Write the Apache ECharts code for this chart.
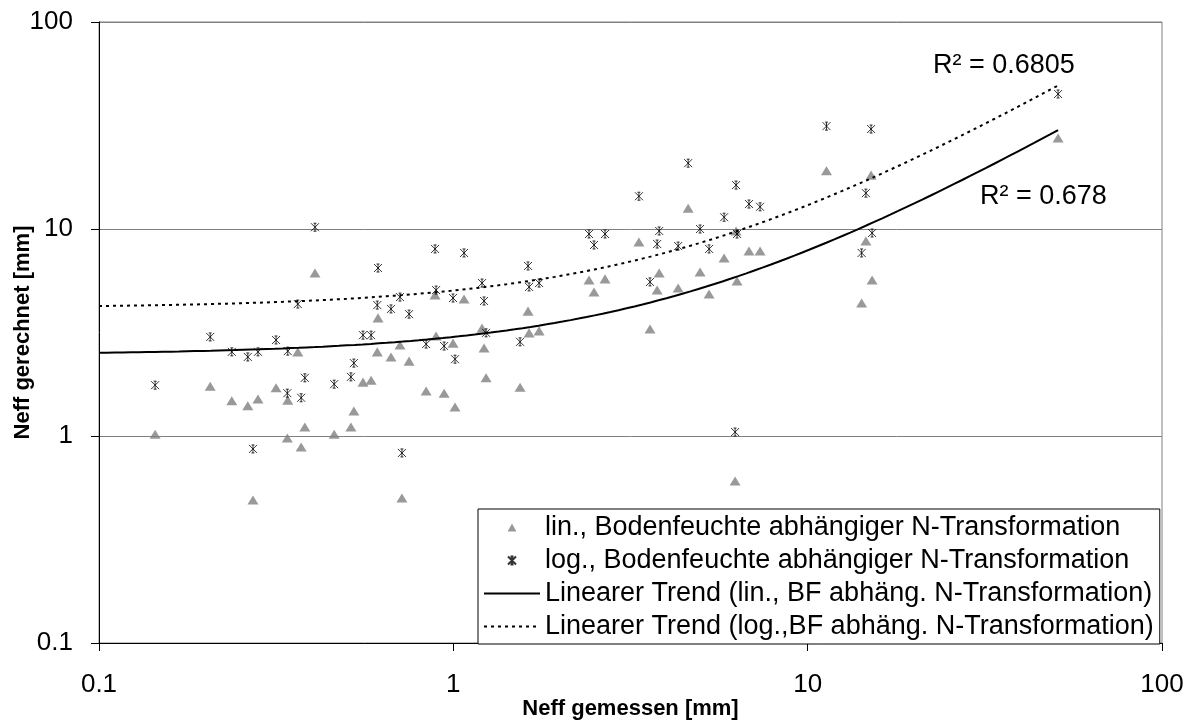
<!DOCTYPE html>
<html lang="de">
<head>
    <meta charset="UTF-8">
    <title>Neff gemessen vs. gerechnet</title>
    <script src="https://cdn.jsdelivr.net/npm/echarts@6/dist/echarts.min.js"></script>
    <style>
        body, html {
            margin: 0;
            padding: 0;
            width: 100%;
            height: 100%;
            background: #fff;
        }
        #chart {
            width: 1192px;
            height: 724px;
        }
    </style>
</head>
<body>
    <div id="chart"></div>
    <script>
        // Neff gemessen [mm] (shared x for both series)
        var neffMeasured = [0.144, 0.206, 0.237, 0.263, 0.272, 0.281, 0.316, 0.340, 0.341, 0.364,
            0.372, 0.381, 0.407, 0.461, 0.514, 0.524, 0.556, 0.586, 0.613, 0.610,
            0.667, 0.707, 0.716, 0.750, 0.838, 0.888, 0.894, 0.942, 0.998, 1.011,
            1.072, 1.205, 1.221, 1.237, 1.543, 1.625, 1.636, 1.746, 2.415, 2.495,
            2.68, 3.34, 3.59, 3.76, 3.81, 4.31, 4.60, 4.97, 5.27, 5.81,
            6.24, 6.28, 6.32, 6.83, 7.34, 11.3, 14.2, 14.6, 15.1, 15.2, 50.9];

        // Neff gerechnet, lin. Bodenfeuchte abhängige N-Transformation
        var neffLin = [1.02, 1.74, 1.48, 1.40, 0.491, 1.51, 1.71, 0.978, 1.49, 2.55,
            0.885, 1.105, 6.13, 1.02, 1.105, 1.32, 1.82, 1.86, 3.72, 2.55,
            2.41, 2.75, 0.502, 2.30, 1.65, 4.80, 3.04, 1.61, 2.81, 1.38,
            4.59, 3.32, 2.66, 1.91, 1.72, 4.01, 3.15, 3.22, 5.67, 4.96,
            5.74, 8.65, 3.29, 5.07, 6.13, 5.19, 12.6, 6.20, 4.85, 7.24,
            0.606, 9.78, 5.61, 7.83, 7.83, 19.1, 4.39, 8.75, 18.2, 5.67, 27.5];

        // Neff gerechnet, log. Bodenfeuchte abhängige N-Transformation
        var neffLog = [1.76, 3.01, 2.55, 2.41, 0.866, 2.55, 2.91, 1.61, 2.57, 4.34,
            1.53, 1.91, 10.2, 1.78, 1.93, 2.25, 3.07, 3.07, 6.48, 4.29,
            4.11, 4.69, 0.828, 3.88, 2.78, 8.01, 5.07, 2.72, 4.64, 2.35,
            7.66, 5.48, 4.49, 3.15, 2.85, 6.63, 5.25, 5.48, 9.46, 8.37,
            9.46, 14.4, 5.55, 8.46, 9.78, 8.27, 20.8, 10.0, 8.01, 11.4,
            1.045, 16.3, 9.46, 13.2, 12.8, 31.4, 7.66, 14.9, 30.4, 9.56, 44.9];

        var seriesNames = [
            'lin., Bodenfeuchte abhängiger N-Transformation',
            'log., Bodenfeuchte abhängiger N-Transformation',
            'Linearer Trend (lin., BF abhäng. N-Transformation)',
            'Linearer Trend (log.,BF abhäng. N-Transformation)'
        ];
        var r2Labels = ['R² = 0.678', 'R² = 0.6805'];

        // marker shapes (paths keep their aspect, also in the legend)
        var TRIANGLE = 'path://M5.5,0L11,10L0,10Z';
        var STAR = 'path://M0,0L8,8M8,0L0,8M4,0L4,8M2.5,0L5.5,0M2.5,8L5.5,8';
        var LEG_SOLID = 'path://M0,0H56V2H0Z';
        var LEG_DOTTED = 'path://M0,0h3v2h-3zM7,0h3v2h-3zM14,0h3v2h-3zM21,0h3v2h-3zM28,0h3v2h-3zM35,0h3v2h-3zM42,0h3v2h-3zM49,0h3v2h-3zM56,0h0v2h0z';

        function pairs(xs, ys) {
            return xs.map(function (x, i) { return [x, ys[i]]; });
        }

        // least squares y = a*x + b (Excel "linearer Trend"), drawn on log axes
        function trend(xs, ys) {
            var n = xs.length, sx = 0, sy = 0, sxx = 0, sxy = 0;
            for (var i = 0; i < n; i++) {
                sx += xs[i]; sy += ys[i];
                sxx += xs[i] * xs[i]; sxy += xs[i] * ys[i];
            }
            var a = (n * sxy - sx * sy) / (n * sxx - sx * sx);
            var b = (sy - a * sx) / n;
            var xmax = Math.max.apply(null, xs);
            var out = [];
            var steps = 120;
            for (var k = 0; k <= steps; k++) {
                var x = Math.pow(10, -1 + (Math.log10(xmax) + 1) * k / steps);
                out.push([x, a * x + b]);
            }
            return out;
        }

        var font = 'Liberation Sans, Arial, sans-serif';
        var chart = echarts.init(document.getElementById('chart'));

        chart.setOption({
            animation: false,
            backgroundColor: '#fff',
            textStyle: { fontFamily: font, color: '#000' },
            grid: {
                left: 99, right: 30, top: 22, bottom: 81,
                containLabel: false,
                outerBoundsMode: 'none',
                show: true, borderColor: '#808080', borderWidth: 1
            },
            xAxis: {
                type: 'log', logBase: 10, min: 0.1, max: 100,
                name: 'Neff gemessen [mm]',
                nameLocation: 'middle', nameGap: 55,
                nameMoveOverlap: false,
                nameTextStyle: { fontSize: 22, fontWeight: 'bold', color: '#000', fontFamily: font },
                axisLine: { lineStyle: { color: '#000', width: 1 } },
                axisTick: { show: true, inside: false, length: 8, lineStyle: { color: '#000' } },
                axisLabel: { fontSize: 26, color: '#000', margin: 29, fontFamily: font },
                splitLine: { show: false },
                minorTick: { show: false }
            },
            yAxis: {
                type: 'log', logBase: 10, min: 0.1, max: 100,
                name: 'Neff gerechnet [mm]',
                nameLocation: 'middle', nameGap: 65,
                nameMoveOverlap: false,
                nameTextStyle: { fontSize: 22, fontWeight: 'bold', color: '#000', fontFamily: font },
                axisLine: { lineStyle: { color: '#000', width: 1 } },
                axisTick: { show: true, inside: false, length: 8, lineStyle: { color: '#000' } },
                axisLabel: { fontSize: 26, color: '#000', margin: 26, fontFamily: font },
                splitLine: { show: true, lineStyle: { color: '#808080', width: 1 } }
            },
            legend: {
                orient: 'vertical',
                left: 478, top: 509,
                padding: [5, 6, 4, 6],
                itemGap: 6,
                itemWidth: 56,
                itemHeight: 8,
                symbolKeepAspect: true,
                backgroundColor: '#fff',
                borderColor: '#000',
                borderWidth: 1,
                borderRadius: 0,
                textStyle: { fontSize: 27, color: '#000', fontFamily: font },
                data: [
                    { name: seriesNames[0] },
                    { name: seriesNames[1] },
                    { name: seriesNames[2], icon: LEG_SOLID },
                    { name: seriesNames[3], icon: LEG_DOTTED }
                ]
            },
            series: [
                {
                    name: seriesNames[0],
                    type: 'scatter',
                    symbol: TRIANGLE,
                    symbolSize: [11, 10],
                    symbolKeepAspect: true,
                    itemStyle: { color: '#808080' },
                    data: pairs(neffMeasured, neffLin),
                    z: 2
                },
                {
                    name: seriesNames[1],
                    type: 'scatter',
                    symbol: STAR,
                    symbolSize: 8,
                    symbolKeepAspect: true,
                    itemStyle: { color: 'rgba(0,0,0,0)', borderColor: '#000', borderWidth: 1 },
                    data: pairs(neffMeasured, neffLog),
                    z: 3
                },
                {
                    name: seriesNames[2],
                    type: 'line',
                    symbol: 'none',
                    lineStyle: { color: '#000', width: 2, type: 'solid' },
                    itemStyle: { color: '#000' },
                    data: trend(neffMeasured, neffLin),
                    z: 4
                },
                {
                    name: seriesNames[3],
                    type: 'line',
                    symbol: 'none',
                    lineStyle: { color: '#000', width: 2, type: [3, 4] },
                    itemStyle: { color: '#000' },
                    data: trend(neffMeasured, neffLog),
                    z: 4
                }
            ],
            graphic: [
                {
                    type: 'text', x: 933, y: 66,
                    style: { text: r2Labels[1], font: '27px ' + font, fill: '#000', verticalAlign: 'middle', align: 'left' }
                },
                {
                    type: 'text', x: 980, y: 197,
                    style: { text: r2Labels[0], font: '27px ' + font, fill: '#000', verticalAlign: 'middle', align: 'left' }
                }
            ]
        });
    </script>
</body>
</html>
